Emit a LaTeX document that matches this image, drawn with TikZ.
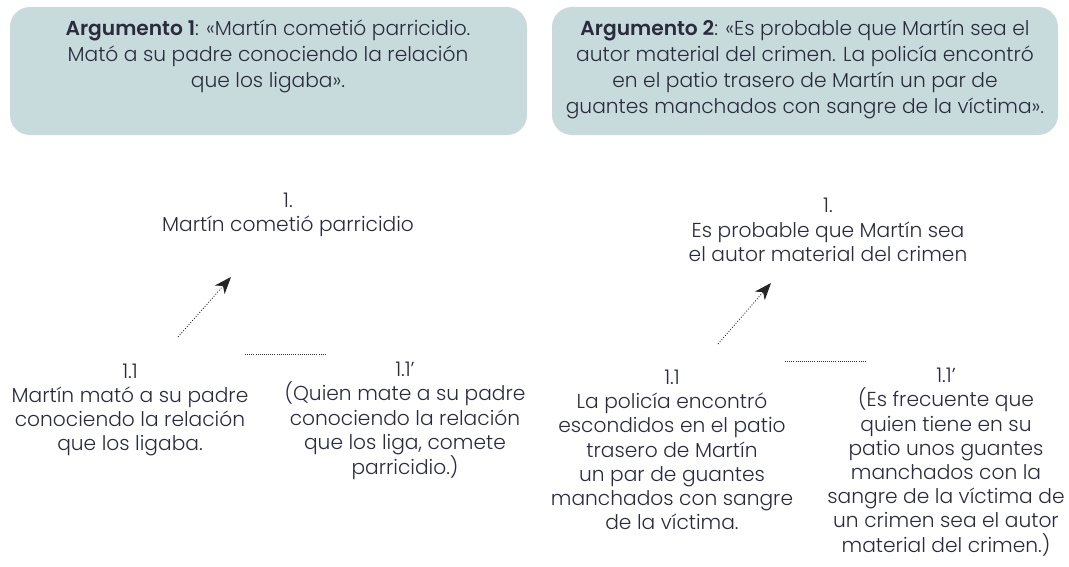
\documentclass[tikz,border=0pt]{standalone}
\usepackage{fontspec}
\setmainfont{Poppins}[UprightFont={* Light},BoldFont={* SemiBold}]
\usepackage{tikz}
\usetikzlibrary{arrows.meta}
\definecolor{boxfill}{HTML}{C7DBDC}
\definecolor{ink}{HTML}{2A2C3E}
\tikzstyle{argbox}=[rounded corners=20pt,fill=boxfill,draw=none]
\tikzstyle{argtext}=[align=center,inner sep=0pt,text=ink,
                     font=\fontsize{20.2}{26}\selectfont]
\tikzstyle{claim}=[align=center,inner sep=0pt,text=ink,
                   font=\fontsize{20.2}{24.2}\selectfont]
\tikzstyle{support}=[draw=black!85,line width=0.9pt,dash pattern=on 0.9pt off 1.8pt,
                     -{Stealth[length=17pt,width=13pt,inset=5pt]}]
\tikzstyle{link}=[draw=black!80,line width=0.9pt,dash pattern=on 0.9pt off 1.2pt]

\begin{document}
\begin{tikzpicture}[x=1pt,y=-1pt]
    \useasboundingbox (0,0) rectangle (1069,566);
    % argument boxes
    \fill[argbox] (10,7) rectangle (527,135);
    \fill[argbox] (552,7) rectangle (1058,135);
    \node (a1) at (268,56) [argtext]{\textbf{Argumento 1}: «Martín cometió parricidio.\\
      Mató a su padre conociendo la relación\\ que los ligaba».};
    \node (a2) at (805,69) [argtext]{\textbf{Argumento 2}: «Es probable que Martín sea el\\
      autor material del crimen. La policía encontró\\ en el patio trasero de Martín un par de\\
      guantes manchados con sangre de la víctima».};
    % first diagram
    \node (c1) at (288,215) [claim]{1.\\ Martín cometió parricidio};
    \node (p1) at (130,410) [claim]{1.1\\ Martín mató a su padre\\ conociendo la relación\\ que los ligaba.};
    \node (q1) at (405,421) [claim]{1.1’\\ (Quien mate a su padre\\ conociendo la relación\\
      que los liga, comete\\ parricidio.)};
    \coordinate (s1) at (178,337);
    \coordinate (t1) at (231,277);
    \coordinate (l1) at (245,354);
    \coordinate (r1) at (326,354);
    \draw[support] (s1) -- (t1);
    \draw[link] (l1) -- (r1);
    % second diagram
    \node (c2) at (828,230) [claim]{1.\\ Es probable que Martín sea\\ el autor material del crimen};
    \node (p2) at (672,450) [claim]{1.1\\ La policía encontró\\ escondidos en el patio\\
      trasero de Martín\\ un par de guantes\\ manchados con sangre\\ de la víctima.};
    \node (q2) at (946,462) [claim]{1.1’\\ (Es frecuente que\\ quien tiene en su\\
      patio unos guantes\\ manchados con la\\ sangre de la víctima de\\
      un crimen sea el autor\\ material del crimen.)};
    \coordinate (s2) at (718,344);
    \coordinate (t2) at (771,283);
    \coordinate (l2) at (785,361);
    \coordinate (r2) at (866,361);
    \draw[support] (s2) -- (t2);
    \draw[link] (l2) -- (r2);
  \end{tikzpicture}
\end{document}
